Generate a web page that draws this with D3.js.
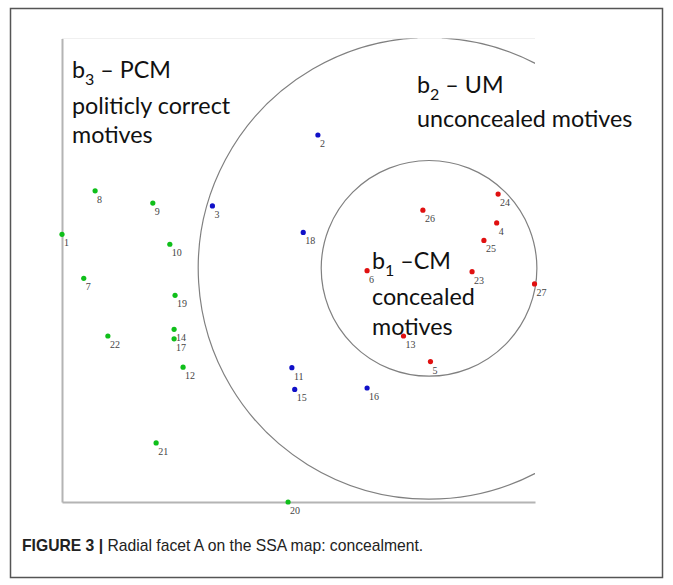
<!DOCTYPE html>
<html>
<head>
<meta charset="utf-8">
<script src="https://cdn.jsdelivr.net/npm/d3@7"></script>
<style>
  body { margin: 0; background: #fff; }
  svg { display: block; }
</style>
</head>
<body>
<div id="chart"></div>
<script>
// point ids, coordinates
const pointIds = [1, 2, 3, 4, 5, 6, 7, 8, 9, 10, 11, 12, 13, 14, 15, 16, 17, 18, 19, 20, 21, 22, 23, 24, 25, 26, 27];
const pointX = [0, 54.1, 31.8, 91.9, 77.9, 64.5, 4.6, 7.0, 19.2, 22.8, 48.6, 25.6, 72.2, 23.7, 49.2, 64.5, 23.7, 51.0, 23.9, 47.8, 19.9, 9.7, 86.7, 92.2, 89.2, 76.3, 99.9];
const pointY = [56.6, 77.6, 62.6, 59.0, 29.7, 48.9, 47.3, 65.8, 63.2, 54.5, 28.4, 28.5, 35.1, 36.5, 23.8, 24.1, 34.5, 57.0, 43.7, 0, 12.5, 35.1, 48.7, 65.1, 55.3, 61.7, 46.1];
const pointGroup = ['PCM', 'UM', 'UM', 'CM', 'CM', 'CM', 'PCM', 'PCM', 'PCM', 'PCM', 'UM', 'PCM', 'CM', 'PCM', 'UM', 'UM', 'PCM', 'UM', 'PCM', 'PCM', 'PCM', 'PCM', 'CM', 'CM', 'CM', 'CM', 'CM'];

// facet circles (common centre, radii in map units)
const facetCentre = [77.6, 49.4];
const facetRadii = [22.8, 48.8];

const groupColor = { PCM: '#0fbf1a', UM: '#1010c8', CM: '#e01010' };

const W = 673, H = 585;
const svg = d3.select('#chart').append('svg')
    .attr('width', W)
    .attr('height', H);

// figure frame
svg.append('rect')
    .attr('x', 10.5).attr('y', 8.5)
    .attr('width', 652).attr('height', 569)
    .attr('fill', 'none')
    .attr('stroke', '#555')
    .attr('stroke-width', 1.5);

const x = d3.scaleLinear().domain([0, 100]).range([62, 535]);
const y = d3.scaleLinear().domain([0, 98]).range([502, 38.5]);

// faint top border of the plot
svg.append('line')
    .attr('x1', x(0)).attr('x2', x(100))
    .attr('y1', y(98)).attr('y2', y(98))
    .attr('stroke', '#f0f0f0')
    .attr('stroke-width', 1);

// axes (lines only)
svg.append('g')
    .attr('transform', 'translate(0,' + y(0) + ')')
    .call(d3.axisBottom(x).ticks(0).tickSizeOuter(0))
    .select('.domain')
    .attr('stroke', '#b4b4b4')
    .attr('stroke-width', 2);

svg.append('g')
    .attr('transform', 'translate(' + x(0) + ',0)')
    .call(d3.axisLeft(y).ticks(0).tickSizeOuter(0))
    .select('.domain')
    .attr('stroke', '#b4b4b4')
    .attr('stroke-width', 2);

// clip for the outer facet circle
svg.append('clipPath')
    .attr('id', 'plotClip')
    .append('rect')
    .attr('x', x(0)).attr('y', y(98))
    .attr('width', x(100) - x(0))
    .attr('height', y(0) - y(98));

const cx = x(facetCentre[0]);
const cy = y(facetCentre[1]);
const pxPerUnit = x(1) - x(0);

// inner circle b1
svg.append('circle')
    .attr('cx', cx).attr('cy', cy)
    .attr('r', facetRadii[0] * pxPerUnit)
    .attr('fill', 'none')
    .attr('stroke', '#808080')
    .attr('stroke-width', 1.2);

// outer circle b2, small gap at the top, clipped to the plot area
const rOuter = facetRadii[1] * pxPerUnit;
const outerPath = d3.path();
const a0 = -Math.PI / 2 + 0.055;
const a1 = -Math.PI / 2 - 0.05 + 2 * Math.PI;
outerPath.moveTo(cx + rOuter * Math.cos(a0), cy + rOuter * Math.sin(a0));
outerPath.arc(cx, cy, rOuter, a0, a1);

svg.append('g')
    .attr('clip-path', 'url(#plotClip)')
    .append('path')
    .attr('d', outerPath.toString())
    .attr('fill', 'none')
    .attr('stroke', '#808080')
    .attr('stroke-width', 1.2);

// points
const points = pointIds.map((id, i) => ({ id: id, x: pointX[i], y: pointY[i], g: pointGroup[i] }));

svg.selectAll('.dot')
    .data(points)
    .enter()
    .append('circle')
    .attr('class', 'dot')
    .attr('cx', d => x(d.x))
    .attr('cy', d => y(d.y))
    .attr('r', 2.6)
    .attr('fill', d => groupColor[d.g]);

svg.selectAll('.lbl')
    .data(points)
    .enter()
    .append('text')
    .attr('class', 'lbl')
    .attr('x', d => x(d.x) + 2)
    .attr('y', d => y(d.y) + 12)
    .attr('font-family', 'Liberation Serif, serif')
    .attr('font-size', 10)
    .attr('fill', '#444')
    .text(d => d.id);

// facet labels
const labelFont = 'Lato, sans-serif';

function facetTitle(px, py, sub, rest) {
    const t = svg.append('text')
        .attr('x', px).attr('y', py)
        .attr('font-family', labelFont)
        .attr('font-size', 23.3)
        .attr('fill', '#111');
    t.append('tspan').text('b');
    t.append('tspan').attr('font-size', 16).attr('dy', 7).text(sub);
    t.append('tspan').attr('dy', -7).text(rest);
}

function facetLine(px, py, str) {
    svg.append('text')
        .attr('x', px).attr('y', py)
        .attr('font-family', labelFont)
        .attr('font-size', 23.3)
        .attr('fill', '#111')
        .text(str);
}

facetTitle(72, 78, '3', ' \u2013 PCM');
facetLine(72, 114, 'politicly correct');
facetLine(72, 143, 'motives');

facetTitle(417, 93, '2', ' \u2013 UM');
facetLine(417, 127, 'unconcealed motives');

facetTitle(372, 269, '1', ' \u2013CM');
facetLine(372, 305, 'concealed');
facetLine(372, 335, 'motives');

// caption
const cap = svg.append('text')
    .attr('x', 22).attr('y', 551)
    .attr('font-family', 'Liberation Sans, Arial, sans-serif')
    .attr('font-size', 15.7)
    .attr('fill', '#222');
cap.append('tspan').attr('font-weight', 'bold').text('FIGURE 3 | ');
cap.append('tspan').text('Radial facet A on the SSA map: concealment.');
</script>
</body>
</html>
